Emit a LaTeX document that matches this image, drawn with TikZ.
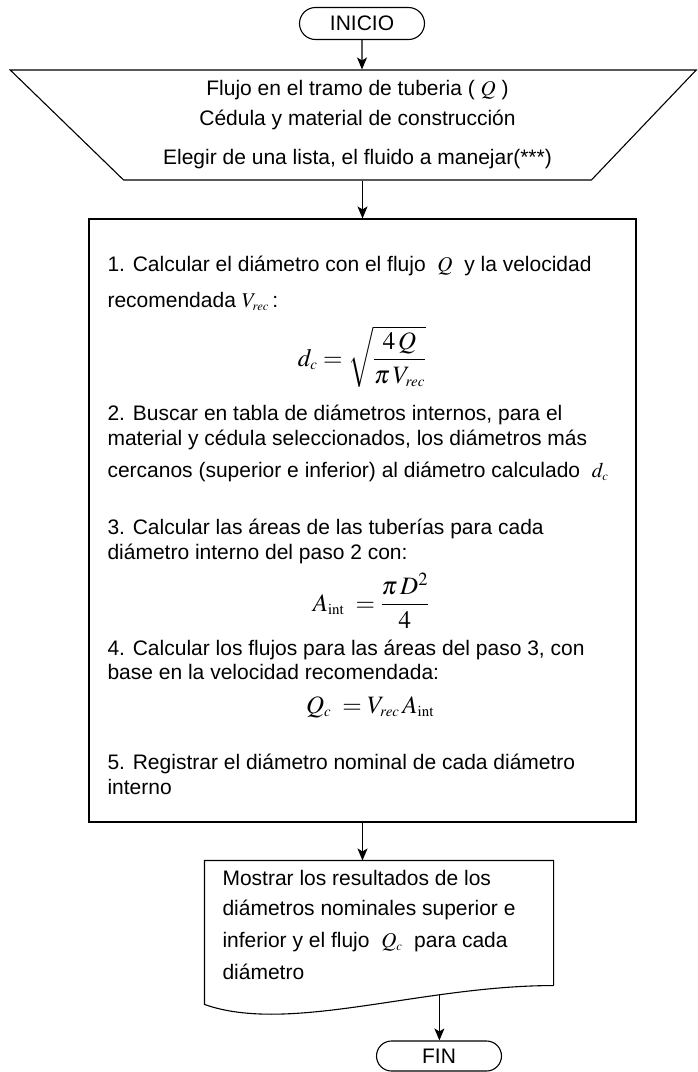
\documentclass[tikz,border=0pt]{standalone}
\usepackage{mathptmx}
\usepackage[no-math]{fontspec}
\setmainfont{Liberation Sans}
\usetikzlibrary{shapes.geometric,shapes.misc,arrows.meta}
\newcommand\subind[1]{_{\scriptscriptstyle #1}}

\begin{document}
\begin{tikzpicture}[x=1pt,y=-1pt,line width=1.1pt,
    every node/.style={font=\fontsize{21}{25}\selectfont},
    terminal/.style={draw,rounded rectangle,minimum width=125pt,minimum height=32pt,inner sep=0pt},
    linea/.style={anchor=base west,inner sep=0pt},
    formula/.style={anchor=base,inner sep=0pt,font=\fontsize{25}{30}\selectfont},
    flecha/.style={-{Stealth[length=12pt,width=10pt,inset=3pt]}}]
    \useasboundingbox (0,0) rectangle (697,1072);

    \node[terminal] (inicio) at (362,23.5) {INICIO};
    \node[draw,trapezium,trapezium left angle=40.2,trapezium right angle=38,
          shape border rotate=180,trapezium stretches body,
          minimum width=686pt,minimum height=110pt,inner sep=0pt,
          align=center,font=\fontsize{21}{30}\selectfont] (entrada) at (357.5,125)
        {Flujo en el tramo de tuberia ( $Q$ )\\ Cédula y material de construcción\\[9pt]
         Elegir de una lista, el fluido a manejar(***)};
    \node[draw,minimum width=547pt,minimum height=603pt,inner sep=0pt] (calculo) at (362.5,520.5) {};

    % pasos del calculo
    \node[linea] (p1a) at (107,271.5) {1. Calcular el diámetro con el flujo \ $Q$\ \ y la velocidad};
    \node[linea] (p1b) at (107,307.5) {recomendada $V\subind{rec}$\,:};
    \node[formula] (f1) at (362,366) {$\displaystyle d\subind{c}=\sqrt{\frac{4\,Q}{\pi\,V\subind{rec}}}$};
    \node[linea] (p2a) at (107,420.5) {2. Buscar en tabla de diámetros internos, para el};
    \node[linea] (p2b) at (107,445.5) {material y cédula seleccionados, los diámetros más};
    \node[linea] (p2c) at (107,477.5) {cercanos (superior e inferior) al diámetro calculado \ $d\subind{c}$};
    \node[linea] (p3a) at (107,534.5) {3. Calcular las áreas de las tuberías para cada};
    \node[linea] (p3b) at (107,559.5) {diámetro interno del paso 2 con:};
    \node[formula] (f2) at (371,611) {$\displaystyle A\subind{\mathrm{int}}\;=\frac{\pi\,D^{2}}{4}$};
    \node[linea] (p4a) at (107,655.5) {4. Calcular los flujos para las áreas del paso 3, con};
    \node[linea] (p4b) at (107,679.5) {base en la velocidad recomendada:};
    \node[formula] (f3) at (370,713) {$Q\subind{c}\;=V\subind{rec}\,A\subind{\mathrm{int}}$};
    \node[linea] (p5a) at (107,769.5) {5. Registrar el diámetro nominal de cada diámetro};
    \node[linea] (p5b) at (107,794.5) {interno};

    % documento de salida
    \node[minimum width=348pt,minimum height=124pt,inner sep=0pt] (mostrar) at (379,923) {};
    \draw (mostrar.south east) -- (mostrar.north east) -- (mostrar.north west) -- ++(0,144)
        .. controls +(85,30) and +(-133,0) .. coordinate[pos=0.71] (onda) (mostrar.south east);
    \node[linea] (m1) at (222,885.5) {Mostrar los resultados de los};
    \node[linea] (m2) at (222,915.5) {diámetros nominales superior e};
    \node[linea] (m3) at (222,947.5) {inferior y el flujo \ $Q\subind{c}$\ \ para cada};
    \node[linea] (m4) at (222,979.5) {diámetro};

    \node[terminal,minimum height=30pt] (fin) at (439,1056) {FIN};

    \draw[flecha] (inicio) -- (inicio |- entrada.north);
    \draw[flecha] (calculo.north |- entrada.south) -- (calculo.north);
    \draw[flecha] (calculo.south) -- (calculo.south |- mostrar.north);
    \draw[flecha] (onda) -- (onda |- fin.north);
\end{tikzpicture}
\end{document}
